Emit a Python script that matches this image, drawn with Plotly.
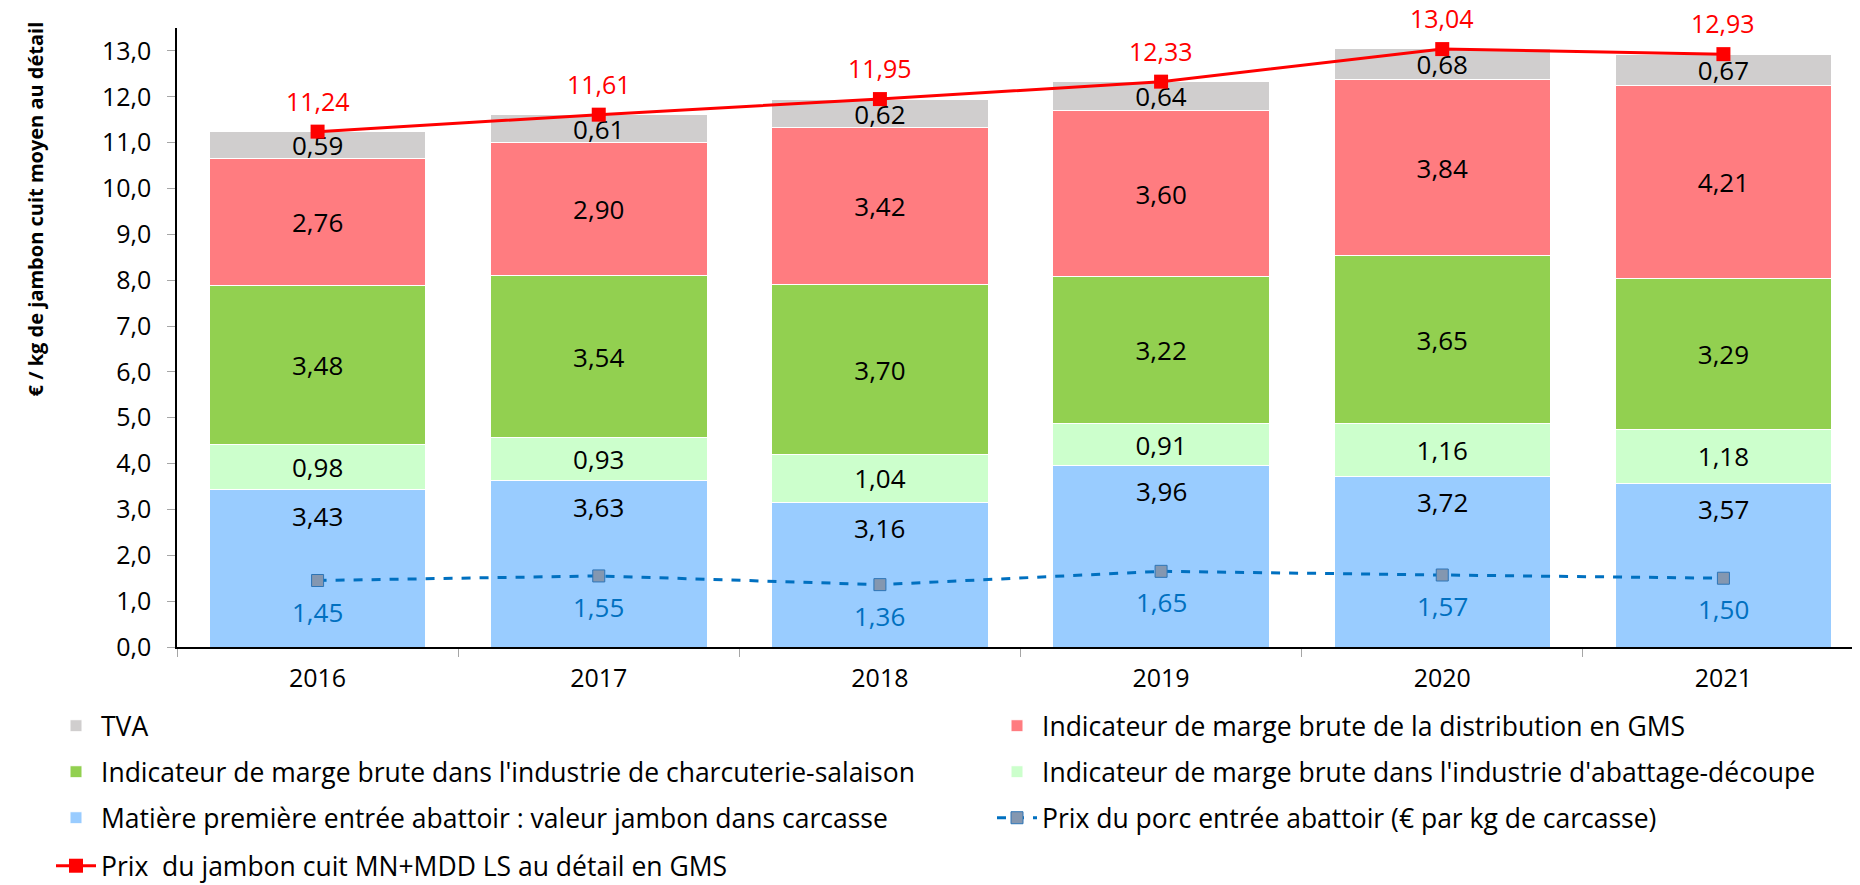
"""Décomposition du prix du jambon cuit au détail en GMS (2016-2021)."""

import plotly.graph_objects as go

# ---- data ----
years = ["2016", "2017", "2018", "2019", "2020", "2021"]

matiere = [3.43, 3.63, 3.16, 3.96, 3.72, 3.57]
abattage = [0.98, 0.93, 1.04, 0.91, 1.16, 1.18]
charcuterie = [3.48, 3.54, 3.70, 3.22, 3.65, 3.29]
distribution = [2.76, 2.90, 3.42, 3.60, 3.84, 4.21]
tva = [0.59, 0.61, 0.62, 0.64, 0.68, 0.67]

prix_porc = [1.45, 1.55, 1.36, 1.65, 1.57, 1.50]
prix_jambon = [11.24, 11.61, 11.95, 12.33, 13.04, 12.93]

y_ticks = list(range(0, 14))

FONT = "Open Sans"
W, H = 1860, 885


def fr(v):
    return f"{v:.2f}".replace(".", ",")


fig = go.Figure()

# stacked bars, bottom to top: (values, name, colour, legend, show text)
bar_specs = [
    (matiere, "Matière première entrée abattoir : valeur jambon dans carcasse", "#99CCFF", "legend5", False),
    (abattage, "Indicateur de marge brute dans l'industrie d'abattage-découpe", "#CCFFCC", "legend4", True),
    (charcuterie, "Indicateur de marge brute dans l'industrie de charcuterie-salaison", "#92D050", "legend3", True),
    (distribution, "Indicateur de marge brute de la distribution en GMS", "#FF7C80", "legend2", True),
    (tva, "TVA", "#D0CECE", "legend", True),
]

for vals, name, color, leg, show_text in bar_specs:
    fig.add_trace(
        go.Bar(
            x=years,
            y=vals,
            name=name,
            legend=leg,
            marker=dict(color=color, line=dict(color="white", width=1)),
            text=[fr(v) for v in vals] if show_text else None,
            textposition="inside" if show_text else "none",
            insidetextanchor="middle",
            textangle=0,
            constraintext="none",
            textfont=dict(family=FONT, size=26, color="black"),
            hoverinfo="skip",
        )
    )

fig.add_trace(
    go.Scatter(
        x=years,
        y=prix_porc,
        mode="lines+markers",
        name="Prix du porc entrée abattoir (€ par kg de carcasse)",
        legend="legend6",
        line=dict(color="#0070C0", width=3, dash="dash"),
        marker=dict(symbol="square", size=12, color="#8497B0", line=dict(color="#2E75B6", width=1)),
    )
)

fig.add_trace(
    go.Scatter(
        x=years,
        y=prix_jambon,
        mode="lines+markers",
        name="Prix  du jambon cuit MN+MDD LS au détail en GMS",
        legend="legend7",
        line=dict(color="#FF0000", width=3),
        marker=dict(symbol="square", size=14, color="#FF0000"),
    )
)

# value labels placed relative to the data points (x given as category index)
annotations = []
for i, v in enumerate(matiere):
    annotations.append(dict(x=i, y=v, text=fr(v), showarrow=False, yshift=-26,
                            font=dict(family=FONT, size=26, color="black")))
for i, v in enumerate(prix_porc):
    annotations.append(dict(x=i, y=v, text=fr(v), showarrow=False, yshift=-31,
                            font=dict(family=FONT, size=26, color="#0070C0")))
for i, v in enumerate(prix_jambon):
    annotations.append(dict(x=i, y=v, text=fr(v), showarrow=False, yshift=31, borderpad=0,
                            font=dict(family=FONT, size=25, color="#FF0000")))

# y axis title (sits higher than the plot centre)
annotations.append(
    dict(
        xref="paper", yref="paper", x=-0.0838, y=0.708,
        xanchor="center", yanchor="middle",
        text="<b>€ / kg de jambon cuit moyen au détail</b>",
        textangle=-90, showarrow=False,
        font=dict(family=FONT, size=20, color="black"),
    )
)

# legends: one per entry, laid out in two columns
col_x = [43 / W, 984 / W]
row_y = [718, 764, 810, 858]
legend_pos = {
    "legend": (0, 0),
    "legend2": (1, 0),
    "legend3": (0, 1),
    "legend4": (1, 1),
    "legend5": (0, 2),
    "legend6": (1, 2),
    "legend7": (0, 3),
}
legend_layout = {}
for key, (c, r) in legend_pos.items():
    legend_layout[key] = dict(
        xref="container", yref="container",
        x=col_x[c], y=1 - row_y[r] / H,
        xanchor="left", yanchor="middle",
        orientation="h",
        bgcolor="rgba(0,0,0,0)",
        font=dict(family=FONT, size=26.5, color="black"),
        itemwidth=40,
    )

fig.update_layout(
    width=W,
    height=H,
    barmode="stack",
    bargap=0.23,
    separators=", ",
    plot_bgcolor="white",
    paper_bgcolor="white",
    margin=dict(l=169, r=4, t=20, b=246),
    showlegend=True,
    annotations=annotations,
    xaxis=dict(
        type="category",
        range=[-0.5, len(years) - 0.5],
        showline=True,
        linecolor="black",
        linewidth=1.5,
        tickson="boundaries",
        ticks="outside",
        ticklen=8,
        tickcolor="#A6A6A6",
        ticklabelstandoff=8,
        tickfont=dict(family=FONT, size=25, color="black"),
        showgrid=False,
        automargin=False,
    ),
    yaxis=dict(
        range=[0, 13.5],
        tickvals=y_ticks,
        tickformat=".1f",
        showline=True,
        linecolor="black",
        linewidth=1.5,
        ticks="outside",
        ticklen=8,
        tickcolor="#A6A6A6",
        ticklabelstandoff=11,
        tickfont=dict(family=FONT, size=25, color="black"),
        showgrid=False,
        zeroline=False,
        automargin=False,
    ),
    **legend_layout,
)

fig.write_html("out.html")
